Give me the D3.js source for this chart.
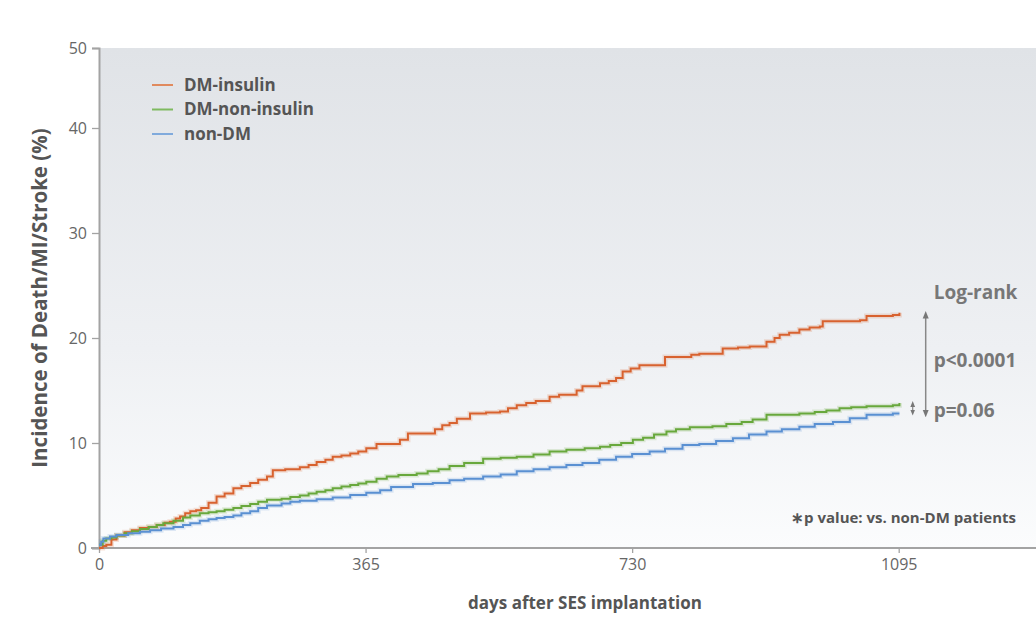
<!DOCTYPE html>
<meta charset="utf-8">
<style>
  body { margin: 0; background: #fff; font-family: "Open Sans", sans-serif; }
</style>
<body>
<div id="chart"></div>
<script src="https://d3js.org/d3.v7.min.js"></script>
<script>

// Kaplan-Meier style cumulative incidence (day -> %)
const insulinDays = [0,5,10,17,24,35,45,56,68,79,90,97,105,111,118,125,133,140,150,161,172,184,195,207,218,230,238,255,275,287,298,310,320,332,344,355,366,380,412,423,460,470,480,490,508,530,549,560,572,585,598,617,630,654,662,686,698,708,717,728,740,775,811,822,854,875,891,914,925,932,945,959,973,987,991,1042,1051,1087,1096];
const insulinPct  = [0,0.2,0.3,0.8,1.2,1.5,1.7,1.9,2.0,2.2,2.4,2.5,2.8,3.0,3.3,3.5,3.6,3.8,4.3,4.9,5.2,5.7,5.9,6.2,6.5,6.8,7.4,7.5,7.7,7.9,8.2,8.4,8.7,8.8,9.0,9.2,9.5,9.9,10.3,10.9,11.3,11.7,11.9,12.3,12.8,12.9,13.0,13.3,13.6,13.8,14.0,14.4,14.6,15.0,15.4,15.7,15.9,16.2,16.8,17.1,17.4,18.2,18.4,18.5,19.0,19.1,19.2,19.65,20.0,20.3,20.5,20.8,21.0,21.1,21.6,21.7,22.1,22.2,22.4];

const nonInsulinDays = [0,5,10,17,24,35,45,56,68,79,88,102,115,125,138,150,161,172,184,195,207,218,230,250,262,275,287,298,310,320,332,344,355,366,380,394,410,435,450,465,480,500,526,550,572,595,617,640,665,686,700,715,731,745,760,777,790,809,840,859,880,895,914,959,980,996,1014,1030,1051,1087,1096];
const nonInsulinPct  = [0.3,0.7,0.9,1.0,1.2,1.4,1.6,1.8,2.0,2.2,2.35,2.6,2.9,3.1,3.3,3.4,3.5,3.65,3.8,4.0,4.2,4.4,4.6,4.7,4.85,5.0,5.2,5.35,5.5,5.7,5.85,6.0,6.15,6.3,6.6,6.8,6.95,7.1,7.3,7.5,7.8,8.1,8.5,8.6,8.7,8.9,9.2,9.35,9.5,9.65,9.8,10.0,10.3,10.5,10.8,11.1,11.3,11.5,11.6,11.8,12.0,12.25,12.7,12.8,12.95,13.1,13.3,13.4,13.5,13.6,13.8];

const nonDMDays = [0,3,6,15,24,40,56,70,85,102,115,125,138,150,161,172,184,195,207,218,230,250,262,275,298,320,344,366,385,400,430,457,480,500,526,550,572,595,617,640,662,685,708,730,754,775,799,822,845,868,890,914,935,959,980,1005,1028,1051,1087,1096];
const nonDMPct  = [0.3,0.6,0.9,1.1,1.25,1.4,1.55,1.7,1.85,2.0,2.2,2.35,2.6,2.75,2.85,2.95,3.1,3.3,3.5,3.8,4.05,4.25,4.4,4.5,4.65,4.8,5.05,5.27,5.5,5.8,6.1,6.2,6.45,6.6,6.8,7.0,7.3,7.5,7.7,7.9,8.1,8.4,8.7,8.95,9.2,9.45,9.8,9.9,10.2,10.45,10.8,11.1,11.3,11.55,11.8,12.0,12.35,12.7,12.8,12.8];

const seriesNames  = ["DM-insulin", "DM-non-insulin", "non-DM"];
const seriesColors = ["#d8622f", "#68a83c", "#5a90d2"];
const legendColors = ["#e08a5e", "#7fba60", "#80aadc"];

const xTicks = [0, 365, 730, 1095];
const yTicks = [0, 10, 20, 30, 40, 50];

const width = 1036, height = 618;
const margin = {top: 48, right: 0, bottom: 70, left: 99};

const series = [
  {name: seriesNames[0], days: insulinDays, pct: insulinPct},
  {name: seriesNames[1], days: nonInsulinDays, pct: nonInsulinPct},
  {name: seriesNames[2], days: nonDMDays, pct: nonDMPct}
].map((s, i) => ({...s, color: seriesColors[i], legend: legendColors[i],
  points: s.days.map((d, j) => [d, s.pct[j]])}));

const x = d3.scaleLinear().domain([0, 1283]).range([margin.left, width - margin.right]);
// the original axis is squeezed between 40 and 50
const y = d3.scaleLinear().domain([0, 40, 50]).range([height - margin.bottom, 128, margin.top]);

const svg = d3.select("#chart").append("svg")
  .attr("width", width).attr("height", height)
  .style("font-family", "'Open Sans', sans-serif");

const defs = svg.append("defs");
const grad = defs.append("linearGradient")
  .attr("id", "bg").attr("x1", 0).attr("y1", 0).attr("x2", 0).attr("y2", 1);
grad.append("stop").attr("offset", "0%").attr("stop-color", "#e0e3e7");
grad.append("stop").attr("offset", "60%").attr("stop-color", "#eef0f3");
grad.append("stop").attr("offset", "100%").attr("stop-color", "#fbfcfd");

svg.append("rect")
  .attr("x", margin.left).attr("y", margin.top)
  .attr("width", width - margin.left - margin.right)
  .attr("height", height - margin.top - margin.bottom)
  .attr("fill", "url(#bg)");

// axes
const yAxis = svg.append("g")
  .attr("transform", `translate(${margin.left},0)`)
  .call(d3.axisLeft(y).tickValues(yTicks).tickSize(7).tickPadding(5));

const xAxis = svg.append("g")
  .attr("transform", `translate(0,${height - margin.bottom})`)
  .call(d3.axisBottom(x).tickValues(xTicks).tickFormat(d3.format("d")).tickSize(5).tickPadding(6));

[yAxis, xAxis].forEach(g => {
  g.attr("font-size", null).attr("font-family", null);
  g.select(".domain").attr("stroke", "#a3a3a3").attr("stroke-width", 2);
  g.selectAll(".tick line").attr("stroke", "#a3a3a3").attr("stroke-width", 1.3);
  g.selectAll(".tick text").attr("fill", "#666").style("font-size", "16px");
});
xAxis.select(".domain").attr("d", `M${margin.left - 8},0H${width}`);

// curves
const line = d3.line()
  .x(d => x(d[0])).y(d => y(d[1]))
  .curve(d3.curveStepAfter);

const lines = svg.append("g");
series.forEach(s => {
  lines.append("path")
    .attr("d", line(s.points))
    .attr("fill", "none")
    .attr("stroke", s.color)
    .attr("stroke-opacity", 0.18)
    .attr("stroke-width", 5);
});
series.forEach(s => {
  lines.append("path")
    .attr("d", line(s.points))
    .attr("fill", "none")
    .attr("stroke", s.color)
    .attr("stroke-width", 2);
});

// legend
const legend = svg.append("g").attr("transform", "translate(152,85)");
series.forEach((s, i) => {
  const row = legend.append("g").attr("transform", `translate(0,${i * 24.5})`);
  row.append("line").attr("x1", 0).attr("x2", 21)
    .attr("stroke", s.legend).attr("stroke-width", 2);
  row.append("text").attr("x", 32).attr("dy", "0.35em")
    .attr("fill", "#555").style("font-size", "17px").style("font-weight", "bold")
    .text(s.name);
});

// axis titles
svg.append("text")
  .attr("transform", `translate(40,${(margin.top + height - margin.bottom) / 2}) rotate(-90)`)
  .attr("text-anchor", "middle").attr("dy", "0.35em")
  .attr("fill", "#555").style("font-size", "20.5px").style("font-weight", "bold")
  .text("Incidence of Death/MI/Stroke (%)");

svg.append("text")
  .attr("x", 585).attr("y", 603).attr("dy", "0.35em")
  .attr("text-anchor", "middle")
  .attr("fill", "#555").style("font-size", "17px").style("font-weight", "bold")
  .text("days after SES implantation");

// log-rank annotation
const endDay = 1095;
const topY = y(insulinPct[insulinPct.length - 1]);
const botY = y(nonDMPct[nonDMPct.length - 1]);
const arrowX = x(endDay) + 27;

defs.append("marker").attr("id", "arr")
  .attr("viewBox", "0 0 10 10").attr("refX", 5).attr("refY", 5)
  .attr("markerWidth", 5).attr("markerHeight", 5).attr("orient", "auto-start-reverse")
  .append("path").attr("d", "M0,1L10,5L0,9Z").attr("fill", "#777");

svg.append("line")
  .attr("x1", arrowX).attr("x2", arrowX)
  .attr("y1", topY + 2).attr("y2", botY)
  .attr("stroke", "#888").attr("stroke-width", 1.5)
  .attr("marker-start", "url(#arr)").attr("marker-end", "url(#arr)");

const smallTop = y(nonInsulinPct[nonInsulinPct.length - 1]) + 1;
svg.append("line")
  .attr("x1", arrowX - 13).attr("x2", arrowX - 13)
  .attr("y1", smallTop).attr("y2", botY - 1)
  .attr("stroke", "#888").attr("stroke-width", 1.2)
  .attr("marker-start", "url(#arr)").attr("marker-end", "url(#arr)");

const notes = [
  {text: "Log-rank", y: 292},
  {text: "p<0.0001", y: 360},
  {text: "p=0.06", y: 410}
];
svg.append("g").selectAll("text").data(notes).join("text")
  .attr("x", arrowX + 8).attr("y", d => d.y).attr("dy", "0.35em")
  .attr("fill", "#777").style("font-size", "19px").style("font-weight", "bold")
  .text(d => d.text);

svg.append("text")
  .attr("x", 1016).attr("y", 518).attr("dy", "0.35em")
  .attr("text-anchor", "end")
  .attr("fill", "#555").style("font-size", "15px").style("font-weight", "bold")
  .text("\u2217p value: vs. non-DM patients");

</script>
